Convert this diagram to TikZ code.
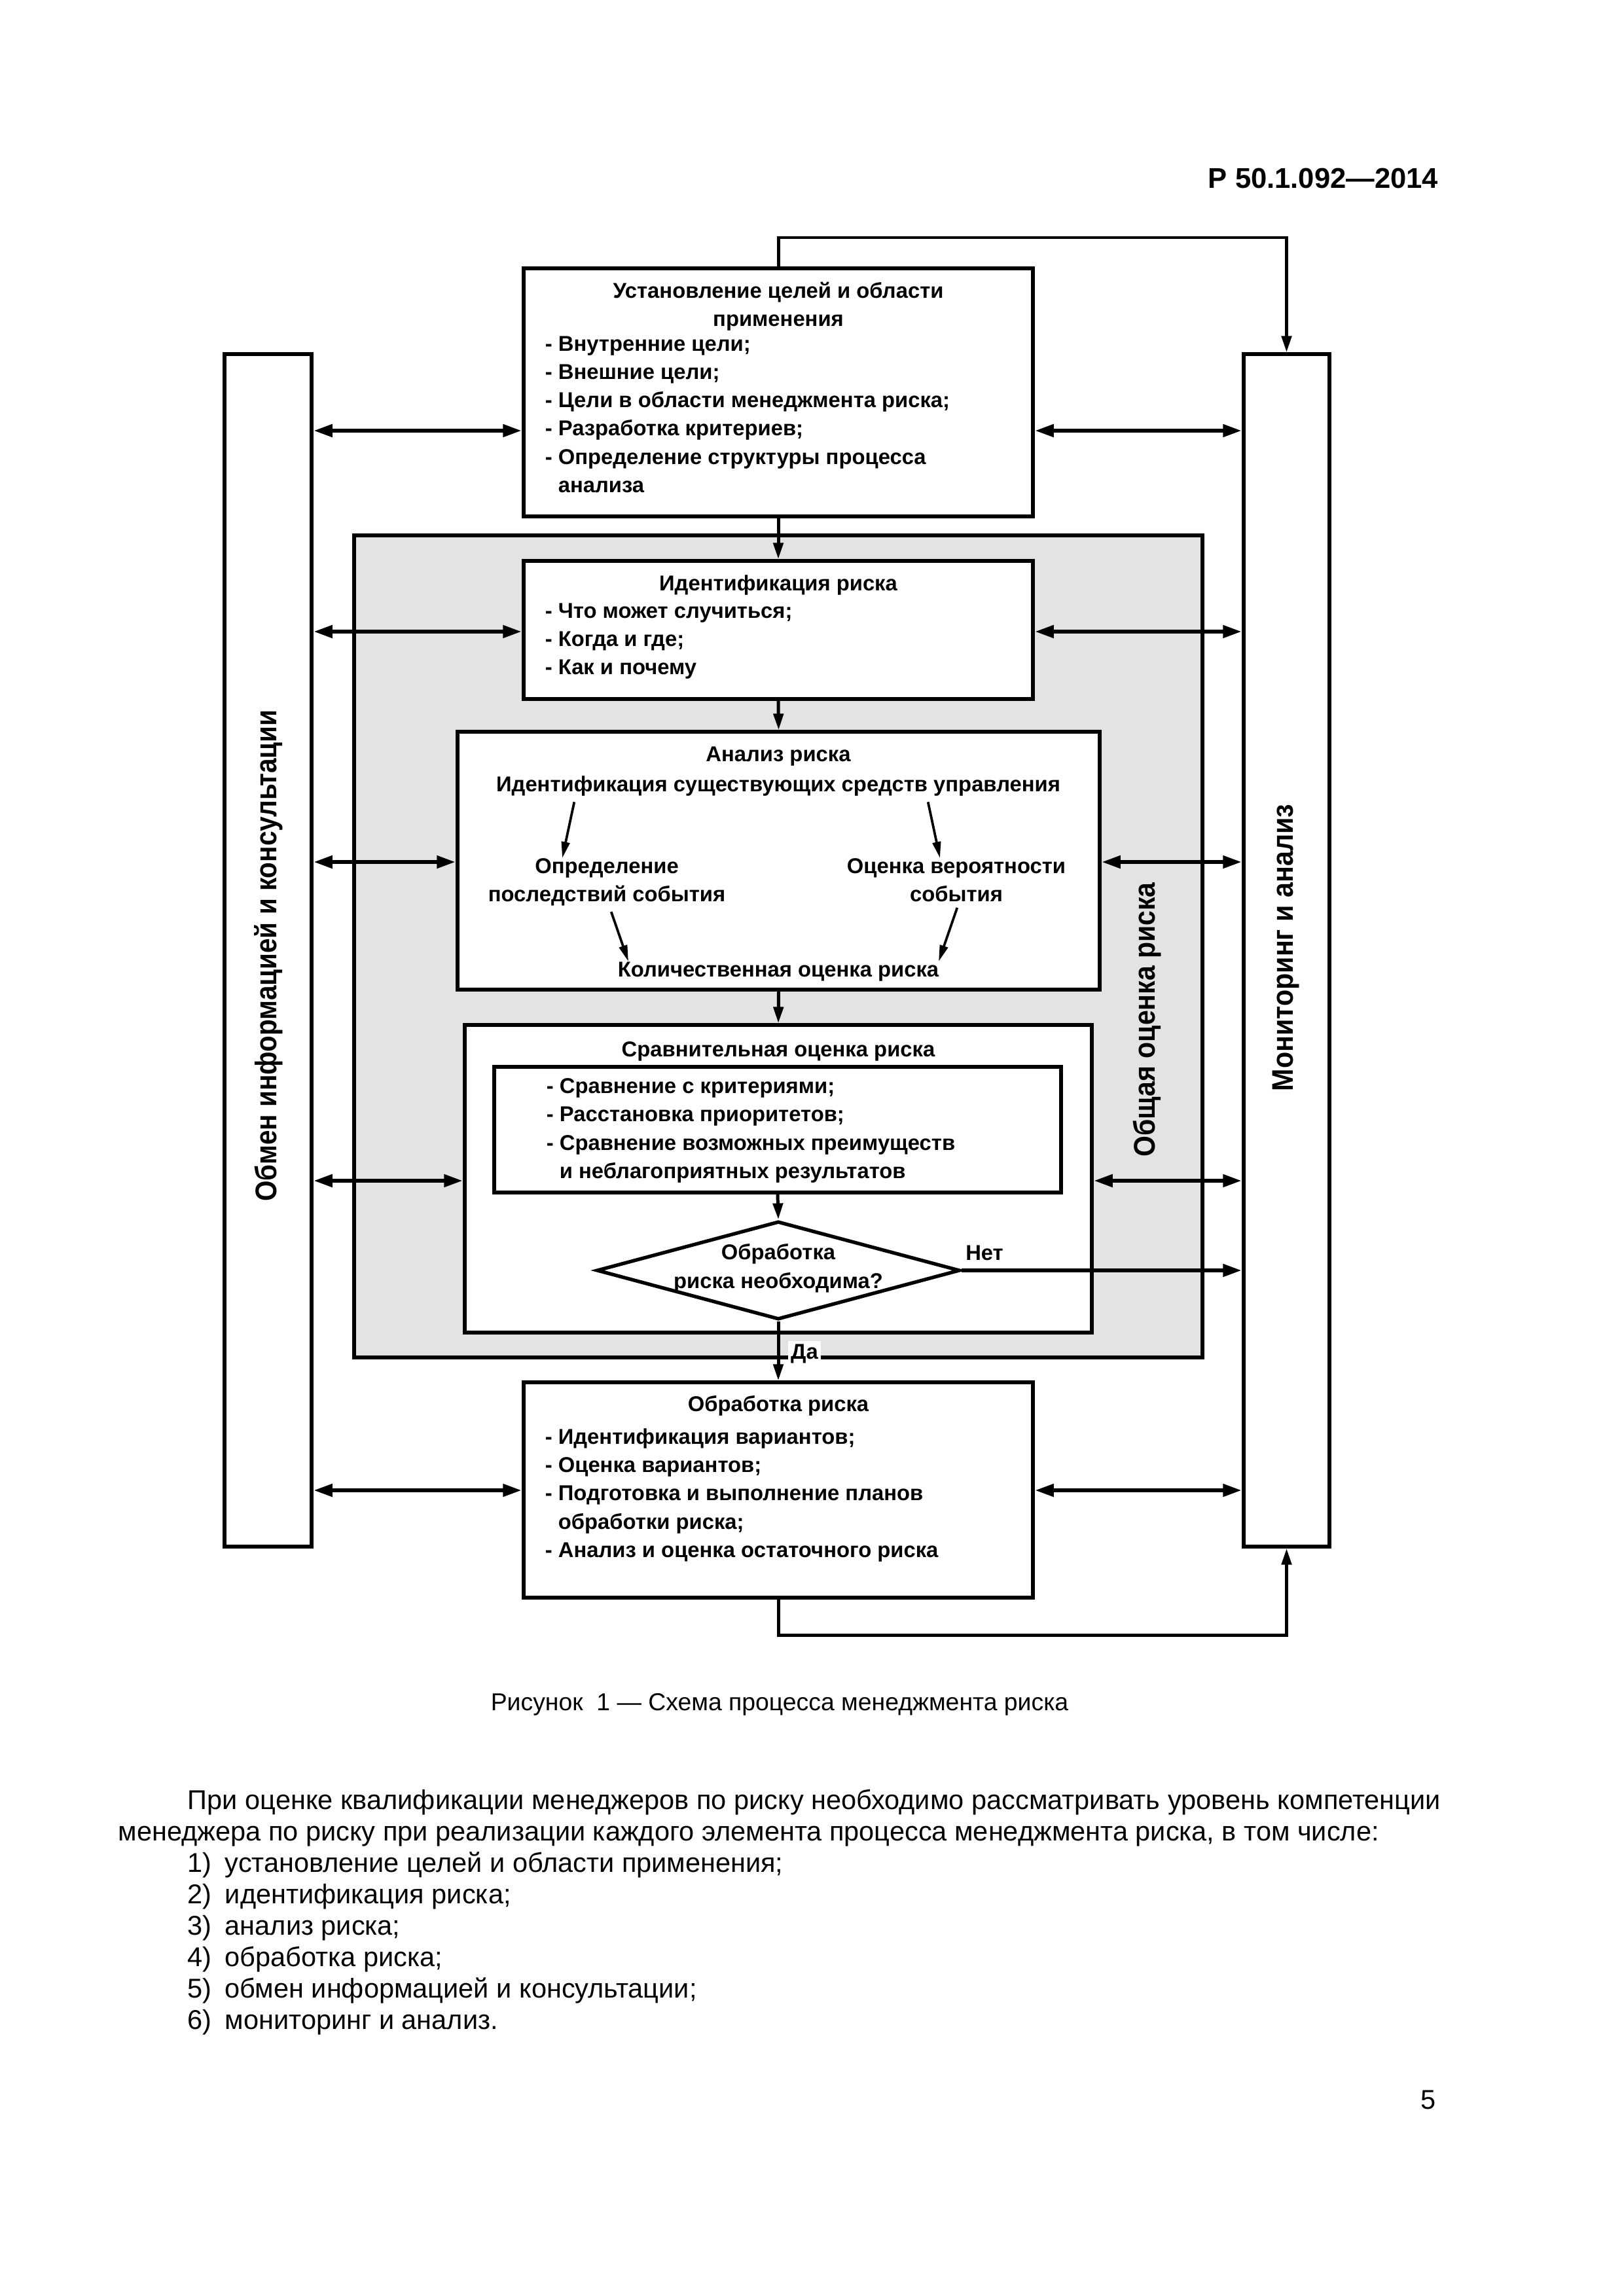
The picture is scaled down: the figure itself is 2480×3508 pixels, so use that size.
\documentclass[tikz,border=0pt]{standalone}
\usepackage{fontspec}
\setmainfont{Liberation Sans}
\usetikzlibrary{arrows.meta,shapes.geometric,fit}
\newlength{\pxu}\setlength{\pxu}{0.0084677cm}
\begin{document}
\begin{tikzpicture}[x=0.0084677cm, y=-0.0084677cm]
\tikzset{
  box/.style={draw, line width=1.3pt, inner sep=0pt, fill=white},
  btxt/.style={font=\fontsize{7.9}{10.4}\selectfont\bfseries, align=left, inner sep=0pt},
  ttl/.style={font=\fontsize{7.9}{10.4}\selectfont\bfseries, align=center, inner sep=0pt},
  dbl/.style={line width=1.6pt, {Triangle[length=7pt,width=4.4pt]}-{Triangle[length=7pt,width=4.4pt]}},
  conn/.style={line width=1.2pt, -{Triangle[length=6pt,width=3.6pt]}},
  slim/.style={line width=0.9pt, -{Triangle[length=6pt,width=3pt]}, shorten <=2pt},
  vlab/.style={rotate=90, font=\fontsize{11}{13}\selectfont\bfseries, inner sep=0pt},
  body/.style={font=\fontsize{10}{11.5}\selectfont, inner sep=0pt, anchor=base west},
}
\useasboundingbox (0,0) rectangle (2480,3508);
\fill[white] (0,0) rectangle (2480,3508);

% header
\node[anchor=east, inner sep=0pt, font=\fontsize{10.5}{12}\selectfont\bfseries] (hdr) at (2198,272) {Р 50.1.092—2014};

% side boxes
\node[box, fit={(343,541) (476,2363)}] (comm) {};
\node[vlab] (commlab) at (410,1460) {\resizebox{181pt}{\height}{Обмен информацией и консультации}};
\node[box, fit={(1900,541) (2031,2363)}] (mon) {};
\node[vlab] (monlab) at (1965,1448) {\resizebox{105.6pt}{\height}{Мониторинг и анализ}};

% gray assessment area
\node[draw, line width=1.3pt, fill=black!11, inner sep=0pt, fit={(541,818) (1837,2074)}] (assess) {};
\node[vlab] (asslab) at (1752,1558) {\resizebox{101pt}{\height}{Общая оценка риска}};

% top box
\node[box, fit={(800,410) (1578,789)}] (goals) {};
\node[ttl, anchor=north] (goals-t) at (1189,430) {Установление целей и области\\применения};
\node[btxt, anchor=north west] (goals-l) at (832,513) {- Внутренние цели;\\- Внешние цели;\\- Цели в области менеджмента риска;\\- Разработка критериев;\\- Определение структуры процесса\\\hphantom{- }анализа};

% identification
\node[box, fit={(800,857) (1578,1068)}] (ident) {};
\node[ttl, anchor=north] (ident-t) at (1189,878) {Идентификация риска};
\node[btxt, anchor=north west] (ident-l) at (832,921) {- Что может случиться;\\- Когда и где;\\- Как и почему};

% analysis
\node[box, fit={(699,1118) (1680,1512)}] (anal) {};
\node[ttl, anchor=north] (an-t) at (1189,1140) {Анализ риска};
\node[ttl, anchor=north] (an-id) at (1189,1185) {Идентификация существующих средств управления};
\node[ttl, anchor=north] (an-c) at (927,1311) {Определение\\последствий события};
\node[ttl, anchor=north] (an-p) at (1461,1311) {Оценка вероятности\\события};
\node[ttl, anchor=north] (an-q) at (1189,1469) {Количественная оценка риска};
\draw[slim] ([shift={(-310,0)}]an-id.south) -- ([shift={(-68,0)}]an-c.north);
\draw[slim] ([shift={(227,0)}]an-id.south) -- ([shift={(-25,0)}]an-p.north);
\draw[slim] ([shift={(4,0)}]an-c.south) -- ([shift={(-229,0)}]an-q.north);
\draw[slim] ([shift={(4,0)}]an-p.south) -- ([shift={(245,0)}]an-q.north);

% comparison
\node[box, fit={(710,1566) (1668,2036)}] (comp) {};
\node[ttl, anchor=north] (comp-t) at (1189,1591) {Сравнительная оценка риска};
\node[box, fit={(755,1630) (1621,1822)}] (crit) {};
\node[btxt, anchor=north west] (crit-l) at (834,1647) {- Сравнение с критериями;\\- Расстановка приоритетов;\\- Сравнение возможных преимуществ\\\hphantom{- }и неблагоприятных результатов};
\node[draw, diamond, line width=1.3pt, fill=white, minimum width=555\pxu, minimum height=150\pxu, inner sep=0pt] (dec) at (1189,1941) {};
\node[ttl, anchor=north] (dec-t) at (1189,1900) {Обработка\\риска необходима?};

% treatment
\node[box, fit={(800,2112) (1578,2441)}] (treat) {};
\node[ttl, anchor=north] (treat-t) at (1189,2132) {Обработка риска};
\node[btxt, anchor=north west] (treat-l) at (832,2182) {- Идентификация вариантов;\\- Оценка вариантов;\\- Подготовка и выполнение планов\\\hphantom{- }обработки риска;\\- Анализ и оценка остаточного риска};

% vertical flow
\draw[conn] (goals.south) -- (ident.north);
\draw[conn] (ident.south) -- (anal.north);
\draw[conn] (anal.south) -- (comp.north);
\draw[conn] (crit.south) -- (dec.north);
\draw[conn] (dec.south) -- (treat.north);
\node[ttl, fill=white, inner sep=1pt] (yes) at (1229,2068) {Да};
\draw[line width=1.6pt, -{Triangle[length=7pt,width=4.4pt]}] (dec.east) -- (dec.east -| mon.west);
\node[ttl] (no) at (1504,1914) {Нет};

% loops
\coordinate (tl) at (1189,363);
\coordinate (bl) at (1189,2498);
\draw[conn] (goals.north) -- (goals.north |- tl) -| (mon.north);
\draw[conn] (treat.south) -- (treat.south |- bl) -| (mon.south);

% double arrows
\coordinate (a1) at (0,658);
\coordinate (a2) at (0,965);
\coordinate (a3) at (0,1317);
\coordinate (a4) at (0,1804);
\coordinate (a5) at (0,2277);
\draw[dbl] (comm.east |- a1) -- (goals.west |- a1);
\draw[dbl] (goals.east |- a1) -- (mon.west |- a1);
\draw[dbl] (comm.east |- a2) -- (ident.west |- a2);
\draw[dbl] (ident.east |- a2) -- (mon.west |- a2);
\draw[dbl] (comm.east |- a3) -- (anal.west |- a3);
\draw[dbl] (anal.east |- a3) -- (mon.west |- a3);
\draw[dbl] (comm.east |- a4) -- (comp.west |- a4);
\draw[dbl] (comp.east |- a4) -- (mon.west |- a4);
\draw[dbl] (comm.east |- a5) -- (treat.west |- a5);
\draw[dbl] (treat.east |- a5) -- (mon.west |- a5);

% caption and body text
\node[font=\fontsize{9}{11}\selectfont, inner sep=0pt] (cap) at (1191,2604) {Рисунок~~1 — Схема процесса менеджмента риска};
\node[body] (p1) at (286,2764) {\hbox to 1914\pxu{При оценке квалификации менеджеров по риску необходимо рассматривать уровень компетенции}};
\node[body] (p2) at (180,2812) {менеджера по риску при реализации каждого элемента процесса менеджмента риска, в том числе:};
\node[body] (n1) at (286,2860) {1)};
\node[body] (t1) at (343,2860) {установление целей и области применения;};
\node[body] (n2) at (286,2908) {2)};
\node[body] (t2) at (343,2908) {идентификация риска;};
\node[body] (n3) at (286,2956) {3)};
\node[body] (t3) at (343,2956) {анализ риска;};
\node[body] (n4) at (286,3004) {4)};
\node[body] (t4) at (343,3004) {обработка риска;};
\node[body] (n5) at (286,3052) {5)};
\node[body] (t5) at (343,3052) {обмен информацией и консультации;};
\node[body] (n6) at (286,3100) {6)};
\node[body] (t6) at (343,3100) {мониторинг и анализ.};
\node[body] (pg) at (2170,3222) {5};
\end{tikzpicture}
\end{document}
